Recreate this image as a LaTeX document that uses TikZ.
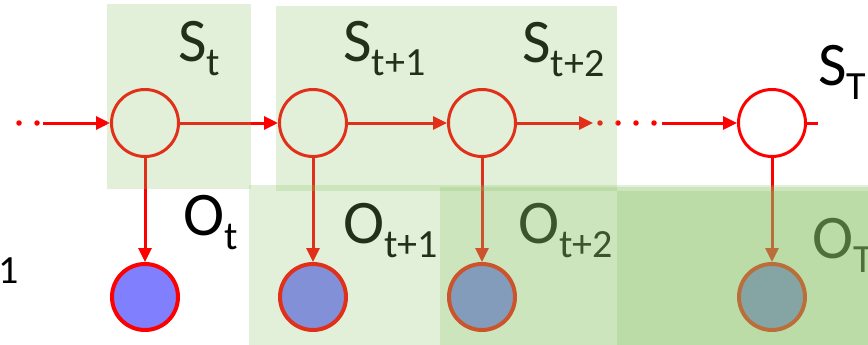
\documentclass[tikz,border=0pt]{standalone}
\usepackage{fontspec}
\setmainfont{Carlito}
\usetikzlibrary{arrows.meta}
\definecolor{hmmred}{RGB}{255,0,0}
\definecolor{obsblue}{RGB}{128,128,255}
\definecolor{boxgreen}{RGB}{139,195,103}
\newcommand{\lowsub}[1]{\raisebox{-14pt}{\fontsize{40}{40}\selectfont #1}}
\tikzset{every picture/.style={line width=0.75pt}}

\begin{document}
\begin{tikzpicture}[x=1pt,y=-1pt,
    state/.style={circle,draw=hmmred,line width=3pt,minimum size=67pt,inner sep=0pt},
    obs/.style={circle,draw=hmmred,fill=obsblue,line width=4pt,minimum size=66pt,inner sep=0pt},
    link/.style={draw=hmmred,line width=3pt,-{Triangle[length=14pt,width=13pt]}},
    dots/.style={draw=hmmred,line width=5.5pt,line cap=round,dash pattern=on 0pt off 18pt},
    lbl/.style={anchor=base west,inner sep=0pt,font=\fontsize{62}{62}\selectfont},
    region/.style={fill=boxgreen,fill opacity=0.25}]
  \useasboundingbox (0,0) rectangle (868,345);
  \clip (0,0) rectangle (868,345);
  % hidden states
  \node[state] (st) at (145,123) {};
  \node[state] (st1) at (313,123) {};
  \node[state] (st2) at (482,123) {};
  \node[state] (sT) at (772,123) {};
  % observations
  \node[obs] (ot) at (145,297) {};
  \node[obs] (ot1) at (313,297) {};
  \node[obs] (ot2) at (482,297) {};
  \node[obs] (oT) at (772,297) {};
  % labels
  \node[lbl] (lst) at (178,62) {S\lowsub{t}};
  \node[lbl] (lst1) at (343,62) {S\lowsub{t+1}};
  \node[lbl] (lst2) at (522,63) {S\lowsub{t+2}};
  \node[lbl] (lsT) at (818,85) {S\lowsub{T}};
  \node[lbl] (lot) at (183,235) {O\lowsub{t}};
  \node[lbl] (lot1) at (343,243) {O\lowsub{t+1}};
  \node[lbl] (lot2) at (518,243) {O\lowsub{t+2}};
  \node[lbl] (loT) at (812,258) {O\lowsub{T}};
  \node[anchor=base west,inner sep=0pt,font=\fontsize{40}{40}\selectfont] (lprev) at (-2,283) {1};
  % chain
  \coordinate (pre0) at (19,123);
  \coordinate (pre1) at (38,123);
  \coordinate (in1) at (43,123);
  \coordinate (out0) at (593,123);
  \coordinate (d0) at (600,123);
  \coordinate (d1) at (654,123);
  \coordinate (in2) at (662,123);
  \coordinate (tail) at (818,123);
  \draw[dots] (pre0) -- (pre1);
  \draw[link] (in1) -- (st);
  \draw[link] (st) -- (st1);
  \draw[link] (st1) -- (st2);
  \draw[link] (st2) -- (out0);
  \draw[dots] (d0) -- (d1);
  \draw[link] (in2) -- (sT);
  \draw[draw=hmmred,line width=3pt] (sT) -- (tail);
  % emissions
  \draw[link] (st) -- (ot);
  \draw[link] (st1) -- (ot1);
  \draw[link] (st2) -- (ot2);
  \draw[link] (sT) -- (oT);
  % highlight boxes
  \fill[region] (107,4) rectangle (251,189);
  \fill[region] (276,6) rectangle (617,191);
  \fill[region] (249,185) rectangle (868,345);
  \fill[region] (440,187) rectangle (868,345);
  \fill[region] (617,191) rectangle (868,345);
\end{tikzpicture}
\end{document}
